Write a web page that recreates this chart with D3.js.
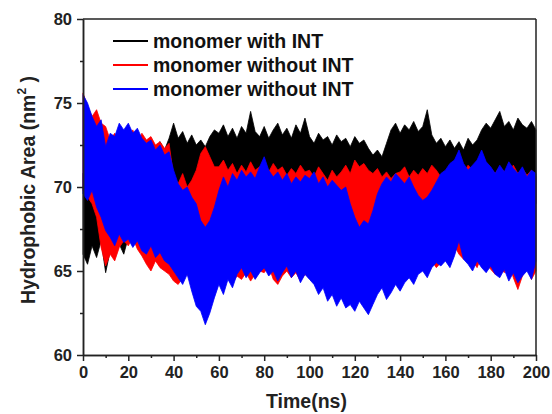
<!DOCTYPE html>
<html>
<head>
<meta charset="utf-8">
<script src="https://cdn.jsdelivr.net/npm/d3@7"></script>
<style>
  body { margin: 0; background: #fff; }
  text { font-family: "Liberation Sans", Arial, sans-serif; font-weight: bold; }
</style>
</head>
<body>
<svg id="chart" width="552" height="414"></svg>
<script>
// samples every 2 ns: hi = max of the trace near t, lo = min of the trace near t
var times = d3.range(0, 201, 2);

var names = ["monomer with INT", "monomer without INT", "monomer without INT"];
var colors = ["#000000", "#ff0000", "#0000ff"];

var blackHi = [70.8,71.2,70.6,71.4,70.9, 71.2,70.6,71.5,71.0,71.8,
  71.6,72.2,71.8,72.5,72.0,72.4,71.9,72.7,72.2,72.9,
  73.8,72.9,73.3,72.6,73.1,72.5,72.8,72.4,73.0,73.4,
  73.2,73.7,73.0,73.5,72.9,73.6,73.2,74.5,73.3,73.0,
  73.6,72.9,73.4,73.8,73.1,73.5,72.9,73.7,73.2,74.1,
  73.0,72.6,73.2,72.8,73.0,72.5,73.1,72.7,72.9,72.4,
  73.0,72.6,72.8,72.3,71.9,72.2,71.8,72.6,73.4,73.8,
  73.2,73.7,73.4,73.9,73.3,73.6,74.6,73.1,72.6,72.9,
  72.4,72.8,72.3,72.7,72.2,72.9,72.5,72.8,73.4,73.8,
  73.5,74.0,74.5,73.6,73.9,73.4,74.1,73.7,73.5,73.9,73.4];
var blackLo = [66.0,65.4,66.5,65.8,66.8, 64.9,66.2,65.8,66.6,66.0,
  67.0,66.5,67.2,66.8,67.4,67.0,67.6,67.2,67.8,67.5,
  68.4,68.0,68.8,68.5,69.0,68.6,69.2,68.8,68.4,68.9,
  68.6,69.0,68.4,68.8,69.1,68.5,68.9,68.3,68.7,69.0,
  68.5,68.9,68.3,68.7,68.6,69.0,68.4,68.8,68.5,68.9,
  68.6,69.2,68.8,69.0,68.5,68.9,68.3,68.7,68.4,68.8,
  68.2,68.6,68.0,68.5,68.3,68.7,68.1,68.6,68.9,68.5,
  68.8,69.1,68.6,68.9,68.4,68.8,68.5,68.6,68.9,68.4,
  68.7,69.0,68.5,68.9,68.6,69.1,68.8,69.2,68.9,69.3,
  69.0,69.4,68.8,69.2,68.9,69.3,69.0,69.4,68.8,69.2,69.0];

var redHi = [75.6,74.8,74.2,74.6,73.8, 73.6,72.8,73.2,72.6,72.9,
  73.0,73.4,72.6,73.2,72.8,73.0,72.5,72.7,72.3,72.6,
  70.6,70.2,70.8,70.0,70.4,71.0,72.0,72.4,71.8,71.2,
  71.2,71.6,71.0,71.4,70.8,71.3,70.9,71.5,71.0,71.2,
  71.3,70.9,71.4,71.0,71.2,70.7,71.1,70.8,71.3,70.9,
  71.0,70.6,71.2,70.8,70.4,71.0,70.6,70.9,71.3,70.8,
  71.6,71.2,71.4,71.0,70.8,71.1,70.6,70.9,70.5,70.8,
  70.9,71.2,70.6,71.0,70.7,71.1,70.8,71.3,71.0,70.6,
  70.9,71.2,70.7,71.0,70.8,71.3,71.0,71.2,71.4,70.9,
  71.1,70.8,71.2,70.9,71.0,71.3,70.8,71.1,70.7,71.0,70.6];
var redLo = [69.8,69.4,69.0,68.2,66.4, 65.3,66.0,65.6,66.4,66.8,
  66.5,67.0,66.3,65.9,65.4,65.0,65.6,65.2,65.0,64.8,
  64.4,64.2,64.6,64.8,64.5,65.2,66.8,67.2,66.5,65.8,
  65.0,64.6,64.9,64.3,64.7,64.5,64.9,64.4,64.8,65.0,
  64.9,65.3,64.5,64.2,64.7,65.0,64.6,64.9,64.4,64.8,
  64.6,64.9,65.2,64.7,65.0,64.6,64.9,65.3,66.0,67.5,
  67.0,66.8,67.4,66.5,65.5,65.0,64.6,64.9,65.2,64.8,
  65.0,64.7,65.2,64.9,65.4,65.1,65.3,65.6,65.2,65.5,
  65.8,66.2,66.5,66.0,65.7,66.1,65.6,65.2,65.9,65.4,
  65.1,64.8,65.3,64.9,65.5,64.6,63.9,64.7,65.2,64.5,65.0];

var blueHi = [75.5,75.0,74.2,73.6,74.0, 72.4,73.2,73.0,73.8,73.4,
  73.8,73.2,73.5,72.9,72.6,72.8,72.2,72.5,71.9,72.1,
  71.0,70.2,69.8,70.0,69.4,69.0,68.0,67.6,68.0,68.8,
  69.8,70.6,70.0,70.8,70.4,71.0,70.6,70.9,70.5,71.2,
  71.8,71.0,70.6,70.9,70.4,70.8,70.2,70.6,70.3,70.7,
  70.5,70.9,70.2,70.6,70.0,70.4,70.1,69.8,70.0,69.0,
  68.2,67.6,68.0,67.8,68.6,69.6,70.2,70.6,70.3,70.8,
  70.5,70.2,70.6,70.0,69.5,69.2,69.4,69.8,70.3,70.8,
  71.0,71.4,71.6,72.2,71.4,71.0,71.3,71.6,72.2,71.5,
  71.2,70.8,71.3,70.9,71.5,71.1,70.8,71.2,70.6,71.0,70.8];
var blueLo = [69.6,69.2,69.8,68.8,68.2, 67.4,67.0,66.5,67.2,66.7,
  66.9,66.4,66.8,66.2,66.0,66.5,65.8,66.1,65.6,65.4,
  65.0,64.6,64.2,64.8,63.8,62.9,62.6,61.8,62.5,63.4,
  64.2,63.6,64.5,64.0,64.8,65.2,64.6,65.0,64.5,64.9,
  65.2,64.7,65.0,64.4,64.9,65.3,64.6,65.0,64.3,64.8,
  64.5,64.2,63.6,64.0,63.2,63.6,62.9,63.4,62.8,63.0,
  62.6,63.2,62.8,62.4,63.0,63.6,64.0,63.3,63.7,64.2,
  63.8,64.3,64.6,64.2,64.8,65.0,64.6,65.2,65.5,65.3,
  65.6,65.2,65.9,66.8,65.7,65.4,65.0,65.6,65.2,64.9,
  65.3,64.8,64.6,65.1,64.4,64.9,64.3,64.7,65.0,64.5,65.6];

var xTicks = [0,20,40,60,80,100,120,140,160,180,200];
var xMinor = [10,30,50,70,90,110,130,150,170,190];
var yTicks = [60,65,70,75,80];
var yMinor = [62.5,67.5,72.5,77.5];

var svg = d3.select("#chart");
var margin = {left: 83, right: 16, top: 19, bottom: 59};
var W = 552, H = 414;

var x = d3.scaleLinear().domain([0, 200]).range([margin.left, W - margin.right]);
var y = d3.scaleLinear().domain([60, 80]).range([H - margin.bottom, margin.top]);

function band(hi, lo){
  return times.map(function(t, i){ return {t: t, hi: hi[i], lo: lo[i]}; });
}

var series = [band(blackHi, blackLo), band(redHi, redLo), band(blueHi, blueLo)];

var area = d3.area()
  .x(function(d){ return x(d.t); })
  .y0(function(d){ return y(d.lo); })
  .y1(function(d){ return y(d.hi); });

svg.append("g").selectAll("path")
  .data(series)
  .enter().append("path")
  .attr("d", area)
  .attr("fill", function(d, i){ return colors[i]; })
  .attr("stroke", function(d, i){ return colors[i]; })
  .attr("stroke-width", 0.8)
  .attr("stroke-linejoin", "miter");

// frame
var axisColor = "#222";
svg.append("line").attr("x1", x(0)).attr("x2", x(200)).attr("y1", y(80)).attr("y2", y(80))
  .attr("stroke", axisColor).attr("stroke-width", 1.5);
svg.append("line").attr("x1", x(200)).attr("x2", x(200)).attr("y1", y(80)).attr("y2", y(60))
  .attr("stroke", axisColor).attr("stroke-width", 1.5);

// axes
var gx = svg.append("g").attr("transform", "translate(0," + y(60) + ")")
  .call(d3.axisBottom(x).tickValues(xTicks).tickSize(6).tickSizeOuter(0).tickPadding(5));
var gxm = svg.append("g").attr("transform", "translate(0," + y(60) + ")")
  .call(d3.axisBottom(x).tickValues(xMinor).tickSize(3).tickSizeOuter(0).tickFormat(""));
var gy = svg.append("g").attr("transform", "translate(" + x(0) + ",0)")
  .call(d3.axisLeft(y).tickValues(yTicks).tickSize(6).tickSizeOuter(0).tickPadding(5));
var gym = svg.append("g").attr("transform", "translate(" + x(0) + ",0)")
  .call(d3.axisLeft(y).tickValues(yMinor).tickSize(3).tickSizeOuter(0).tickFormat(""));

[gx, gxm, gy, gym].forEach(function(g){
  g.select(".domain").attr("stroke", axisColor).attr("stroke-width", 1.5);
  g.selectAll(".tick line").attr("stroke", axisColor).attr("stroke-width", 1.5);
  g.selectAll("text").attr("fill", "#222")
    .style("font-size", "16.5px").style("font-family", "Liberation Sans, Arial, sans-serif")
    .style("font-weight", "bold");
});

// axis titles
svg.append("text")
  .attr("x", (x(0) + x(200)) / 2 - 3)
  .attr("y", 408)
  .attr("text-anchor", "middle")
  .style("font-size", "19.5px")
  .attr("fill", "#222")
  .text("Time(ns)");

var yt = svg.append("text")
  .attr("transform", "translate(35," + 190 + ") rotate(-90)")
  .attr("text-anchor", "middle")
  .style("font-size", "19.5px")
  .attr("fill", "#222");
yt.append("tspan").text("Hydrophobic Area (nm");
yt.append("tspan").attr("dy", -9).style("font-size", "12px").text("2");
yt.append("tspan").attr("dy", 9).text(" )");

// legend
var legend = svg.append("g");
names.forEach(function(n, i){
  var ly = 41 + i * 24;
  legend.append("line")
    .attr("x1", 113).attr("x2", 148).attr("y1", ly).attr("y2", ly)
    .attr("stroke", colors[i]).attr("stroke-width", 2);
  legend.append("text")
    .attr("x", 153).attr("y", ly + 7)
    .style("font-size", "19.5px")
    .attr("fill", "#111")
    .text(n);
});
</script>
</body>
</html>
